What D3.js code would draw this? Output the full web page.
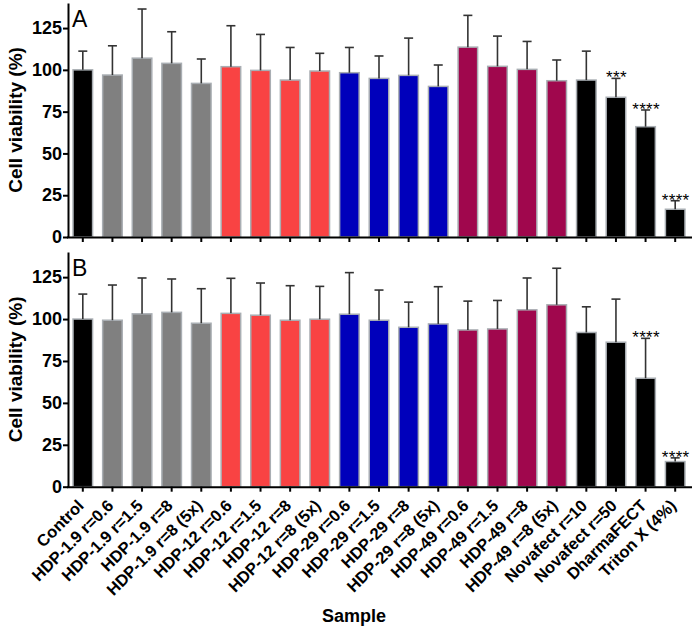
<!DOCTYPE html>
<html><head><meta charset="utf-8">
<script src="https://cdn.jsdelivr.net/npm/d3@7"></script>
<style>body{margin:0;background:#fff}svg{display:block}text{font-family:"Liberation Sans",Arial,sans-serif}</style>
</head><body><svg id="c" width="697" height="635"></svg>
<script>
const categories = ["Control","HDP-1.9 r=0.6","HDP-1.9 r=1.5","HDP-1.9 r=8","HDP-1.9 r=8 (5x)","HDP-12 r=0.6","HDP-12 r=1.5","HDP-12 r=8","HDP-12 r=8 (5x)","HDP-29 r=0.6","HDP-29 r=1.5","HDP-29 r=8","HDP-29 r=8 (5x)","HDP-49 r=0.6","HDP-49 r=1.5","HDP-49 r=8","HDP-49 r=8 (5x)","Novafect r=10","Novafect r=50","DharmaFECT","Triton X (4%)"];
const groups = ["ctrl","h19","h19","h19","h19","h12","h12","h12","h12","h29","h29","h29","h29","h49","h49","h49","h49","ctrl","ctrl","ctrl","ctrl"];
const groupColors = {ctrl:"#000000",h19:"#808080",h12:"#f94343",h29:"#0000bb",h49:"#a0074d"};
const valuesA = [100,96.9,107,103.9,91.9,101.9,99.7,93.9,99.3,98.3,94.9,96.7,90.1,113.6,102.1,100.3,93.5,93.9,83.6,66.0,16.6];
const errTopA = [111.2,114.4,136.4,122.8,106.5,126.4,121.2,113.4,109.9,113.4,108.3,119.0,102.9,132.6,120.2,117.0,105.9,111.2,94.9,76.0,21.7];
const starsA = ["","","","","","","","","","","","","","","","","","","***","****","****"];
const valuesB = [100,99.3,103.1,104,97.5,103.4,102.3,99.3,99.9,102.9,99.3,95.1,97.1,93.5,94.1,105.5,108.5,92.0,86.2,64.7,15.0];
const errTopB = [114.9,120.3,124.5,123.9,118.1,124.3,121.5,119.9,119.5,127.7,117.3,110.1,119.3,110.7,111.1,124.5,130.3,107.3,111.9,88.5,17.2];
const starsB = ["","","","","","","","","","","","","","","","","","","","****","****"];
const yTicks = [0,25,50,75,100,125];

const FONT = "'Liberation Sans',Arial,sans-serif";
const svg = d3.select("#c");
const x = d3.scaleBand().domain(categories).range([68,690]).paddingInner(0.34).paddingOuter(0.17);

function panel(label, vals, errs, stars, top, bottom, showLabels){
  const y = d3.scaleLinear().domain([0,140]).range([bottom, top]);
  const g = svg.append("g");
  g.selectAll("rect").data(categories).join("rect")
    .attr("x", d => x(d)).attr("width", x.bandwidth())
    .attr("y", (d,i) => y(vals[i])).attr("height", (d,i) => y(0) - y(vals[i]))
    .attr("fill", (d,i) => groupColors[groups[i]])
    .attr("stroke", "#a9aeb3").attr("stroke-width", 1.5);
  const eb = g.append("g").attr("stroke", "#333").attr("stroke-width", 1.6);
  categories.forEach((c,i) => {
    const cx = x(c) + x.bandwidth()/2;
    eb.append("line").attr("x1",cx).attr("x2",cx).attr("y1",y(vals[i])).attr("y2",y(errs[i]));
    eb.append("line").attr("x1",cx-4.5).attr("x2",cx+4.5).attr("y1",y(errs[i])).attr("y2",y(errs[i]));
    if (stars[i]) {
      g.append("text").attr("x", cx + 0.5).attr("y", y(errs[i]) + 5).attr("text-anchor","middle")
        .attr("font-size", 17).attr("fill","#000").attr("letter-spacing", "0.3px").text(stars[i]);
    }
  });
  const ya = g.append("g").attr("transform","translate(68,0)")
    .call(d3.axisLeft(y).tickValues(yTicks).tickSize(5).tickSizeOuter(0).tickPadding(1));
  ya.select(".domain").attr("stroke","#000").attr("stroke-width",2);
  ya.selectAll(".tick line").attr("stroke","#000").attr("stroke-width",2);
  ya.selectAll(".tick text").attr("font-size",18).attr("font-weight","bold").attr("fill","#000")
    .attr("font-family",FONT);
  const xa = g.append("g").attr("transform",`translate(0,${bottom})`)
    .call(d3.axisBottom(x).tickSize(5).tickSizeOuter(0));
  xa.select(".domain").attr("d", `M67,0.5H692`).attr("stroke","#000").attr("stroke-width",2);
  xa.selectAll(".tick line").attr("stroke","#000").attr("stroke-width",2);
  xa.selectAll(".tick text").remove();
  if (showLabels) {
    xa.selectAll(".tick").append("text")
      .attr("transform","translate(2,20) rotate(-45)")
      .attr("text-anchor","end")
      .attr("font-size",16.5).attr("font-weight","bold").attr("fill","#000")
      .attr("font-family",FONT)
      .text(d => d);
  }
  g.append("text").attr("x",72).attr("y",top+24).attr("font-size",23).attr("fill","#000").text(label);
  g.append("text").attr("transform",`translate(22,${(top+bottom)/2}) rotate(-90)`)
    .attr("text-anchor","middle").attr("font-size",19).attr("font-weight","bold").attr("fill","#000")
    .text("Cell viability (%)");
}

panel("A", valuesA, errTopA, starsA, 3, 237, false);
panel("B", valuesB, errTopB, starsB, 252, 486.7, true);

svg.append("text").attr("x",354).attr("y",622).attr("text-anchor","middle")
  .attr("font-size",18).attr("font-weight","bold").attr("fill","#000").text("Sample");
</script></body></html>
